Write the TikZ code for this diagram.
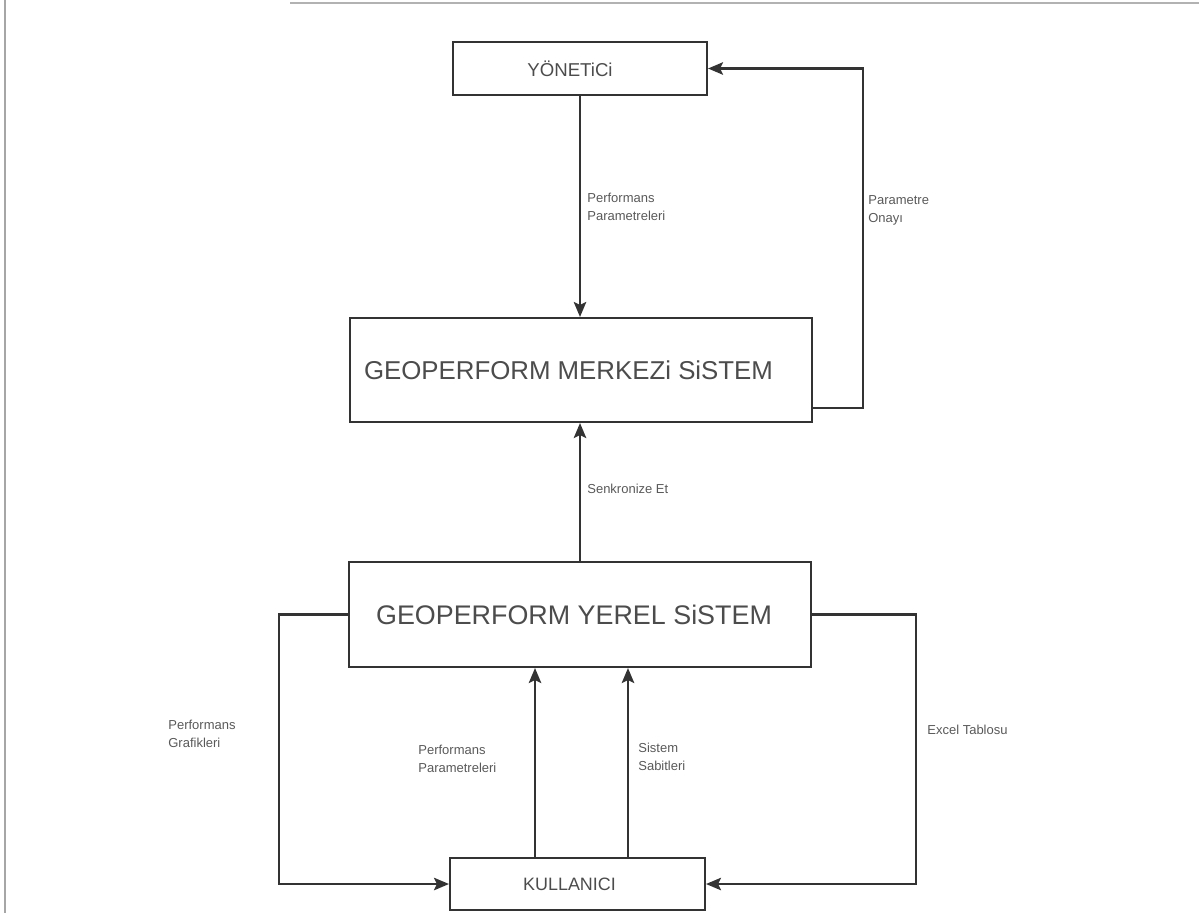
\documentclass[tikz,border=0pt]{standalone}
\usepackage{fontspec}
\setmainfont{Liberation Sans}
\usetikzlibrary{arrows.meta}

\begin{document}
\begin{tikzpicture}[x=0.02cm,y=-0.02cm,
                kutu/.style={draw=black!80,line width=1.2pt,text=black!70,inner sep=0pt},
                ok/.style={draw=black!80,line width=1.2pt,-{Stealth[length=3mm,width=2.5mm,inset=0.6mm]}},
                etiket/.style={anchor=west,align=left,inner sep=0pt,text=black!65,font=\fontsize{7.4}{10.2}\selectfont}]
                \useasboundingbox (0,0) rectangle (1199,913);
                \draw[black!35,line width=0.8pt] (5,0)--(5,913);
                \draw[black!30,line width=1pt] (290,3)--(1199,3);
                \node[kutu,minimum width=5.08cm,minimum height=1.06cm,font=\fontsize{10.6}{12}\selectfont] (yonetici) at (580,68.5) {YÖNETiCi\hspace*{0.4cm}};
                \node[kutu,minimum width=9.24cm,minimum height=2.08cm,font=\fontsize{14.7}{16}\selectfont] (merkezi) at (581,370) {GEOPERFORM MERKEZi SiSTEM\hspace*{0.5cm}};
                \node[kutu,minimum width=9.24cm,minimum height=2.1cm,font=\fontsize{15.3}{16}\selectfont] (yerel) at (580,614.5) {GEOPERFORM YEREL SiSTEM\hspace*{0.24cm}};
                \node[kutu,minimum width=5.1cm,minimum height=1.04cm,font=\fontsize{10.2}{11}\selectfont] (kullanici) at (577.5,884) {KULLANICI\hspace*{0.32cm}};
                \draw[ok] (yonetici.south) -- (yonetici.south |- merkezi.north);
                \draw[ok] ([yshift=-0.76cm]merkezi.east) -- ++(50,0) |- (yonetici.east);
                \draw[ok] (yerel.north) -- (yerel.north |- merkezi.south);
                \draw[ok] (yerel.west) -- ++(-69,0) |- (kullanici.west);
                \draw[ok] (yerel.east) -- ++(104,0) |- (kullanici.east);
                \draw[ok] ([xshift=-0.85cm]kullanici.north) -- ([xshift=-0.85cm]kullanici.north |- yerel.south);
                \draw[ok] ([xshift=1.01cm]kullanici.north) -- ([xshift=1.01cm]kullanici.north |- yerel.south);
                \node[etiket] (e1) at (587,207) {Performans\\Parametreleri};
                \node[etiket] (e2) at (868,210) {Parametre\\Onayı};
                \node[etiket] (e3) at (587,489) {Senkronize Et};
                \node[etiket] (e4) at (168,734) {Performans\\Grafikleri};
                \node[etiket] (e5) at (418,759) {Performans\\Parametreleri};
                \node[etiket] (e6) at (638,757) {Sistem\\Sabitleri};
                \node[etiket] (e7) at (927,730) {Excel Tablosu};
            \end{tikzpicture}
\end{document}
